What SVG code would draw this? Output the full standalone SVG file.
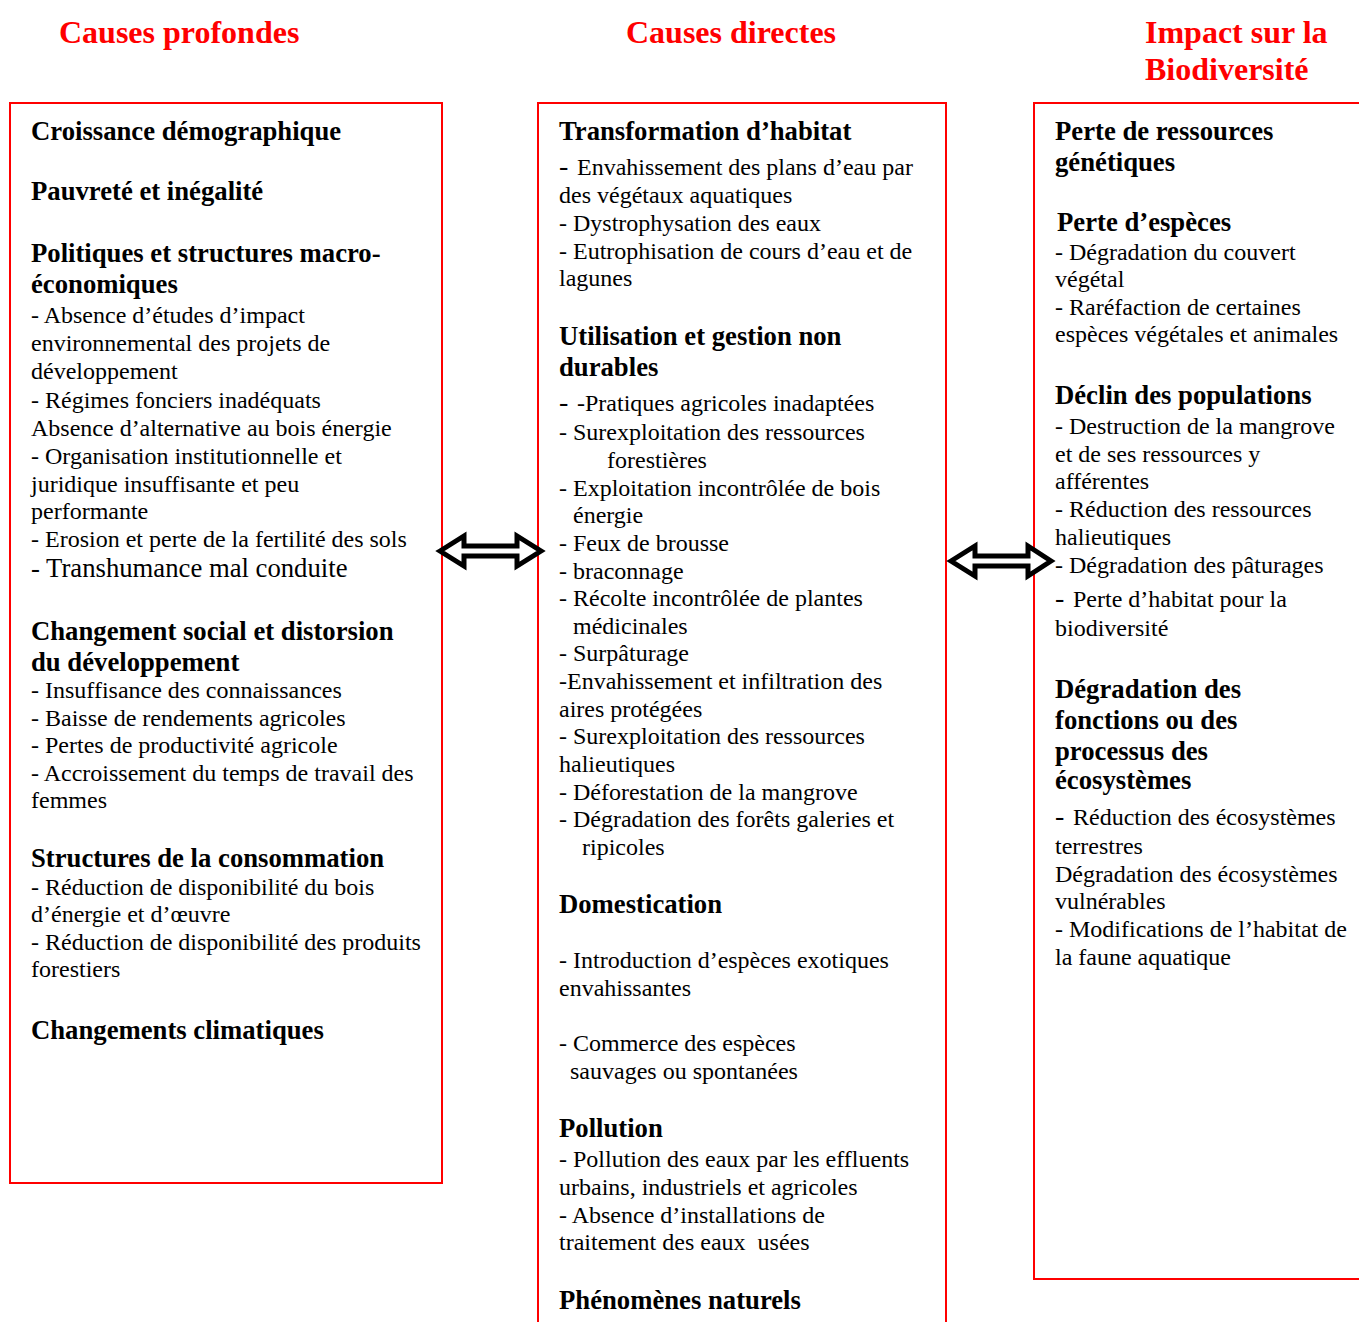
<svg xmlns="http://www.w3.org/2000/svg" width="1359" height="1322" viewBox="0 0 1359 1322">
<style>
text{font-family:"Liberation Serif","Times New Roman",serif;fill:#000}
.t{font-size:24px}
.h{font-size:26.7px;font-weight:bold}
.ti{font-size:32px;font-weight:bold;fill:#ff0000}
.box{fill:#fff;stroke:#ff0000;stroke-width:2}
.arr{fill:#fff;stroke:#000;stroke-width:5;stroke-linejoin:miter}
.bd{font-size:28px}
</style>
<rect width="1359" height="1322" fill="#fff"/>
<g id="titles">
<text class="ti" x="59" y="43">Causes profondes</text>
<text class="ti" x="626" y="43">Causes directes</text>
<text class="ti" x="1145" y="43">Impact sur la</text>
<text class="ti" x="1145" y="80">Biodiversité</text>
</g>
<g id="causes-profondes">
<rect class="box" x="10" y="103" width="432" height="1080"/>
<text class="h" x="31" y="140">Croissance démographique</text>
<text class="h" x="31" y="200">Pauvreté et inégalité</text>
<text class="h" x="31" y="262">Politiques et structures macro-</text>
<text class="h" x="31" y="293">économiques</text>
<text class="t" x="31" y="323">-  Absence d’études d’impact</text>
<text class="t" x="31" y="351">environnemental des projets de</text>
<text class="t" x="31" y="379">développement</text>
<text class="t" x="31" y="408">-  Régimes fonciers inadéquats</text>
<text class="t" x="31" y="436">Absence d’alternative au bois énergie</text>
<text class="t" x="31" y="464">- Organisation institutionnelle et</text>
<text class="t" x="31" y="492">juridique insuffisante et peu</text>
<text class="t" x="31" y="519">performante</text>
<text class="t" x="31" y="547">- Erosion et perte de la fertilité des sols</text>
<text class="t" x="31" y="577" style="font-size:26.7px">- Transhumance mal conduite</text>
<text class="h" x="31" y="640">Changement social et distorsion</text>
<text class="h" x="31" y="671">du développement</text>
<text class="t" x="31" y="698">- Insuffisance des connaissances</text>
<text class="t" x="31" y="726">- Baisse de rendements agricoles</text>
<text class="t" x="31" y="753">- Pertes de productivité agricole</text>
<text class="t" x="31" y="781">- Accroissement du temps de travail des</text>
<text class="t" x="31" y="808">femmes</text>
<text class="h" x="31" y="867">Structures de la consommation</text>
<text class="t" x="31" y="895">- Réduction de disponibilité du bois</text>
<text class="t" x="31" y="922">d’énergie et d’œuvre</text>
<text class="t" x="31" y="950">- Réduction de disponibilité des produits</text>
<text class="t" x="31" y="977">forestiers</text>
<text class="h" x="31" y="1039">Changements climatiques</text>
</g>
<g id="causes-directes">
<rect class="box" x="538" y="103" width="408" height="1240"/>
<text class="h" x="559" y="140">Transformation d’habitat</text>
<text class="t" x="559" y="175"><tspan class="bd">-</tspan><tspan x="577">Envahissement des plans d’eau par</tspan></text>
<text class="t" x="559" y="203">des végétaux aquatiques</text>
<text class="t" x="559" y="231">- Dystrophysation des eaux</text>
<text class="t" x="559" y="259">- Eutrophisation de cours d’eau et de</text>
<text class="t" x="559" y="286">lagunes</text>
<text class="h" x="559" y="345">Utilisation et gestion non</text>
<text class="h" x="559" y="376">durables</text>
<text class="t" x="559" y="411"><tspan class="bd">-</tspan><tspan x="577">-Pratiques agricoles inadaptées</tspan></text>
<text class="t" x="559" y="440">- Surexploitation des ressources</text>
<text class="t" x="607" y="468">forestières</text>
<text class="t" x="559" y="496">- Exploitation incontrôlée de bois</text>
<text class="t" x="573" y="523">énergie</text>
<text class="t" x="559" y="551">- Feux de brousse</text>
<text class="t" x="559" y="579">- braconnage</text>
<text class="t" x="559" y="606">- Récolte incontrôlée de plantes</text>
<text class="t" x="573" y="634">médicinales</text>
<text class="t" x="559" y="661">- Surpâturage</text>
<text class="t" x="559" y="689">-Envahissement et infiltration des</text>
<text class="t" x="559" y="717">aires protégées</text>
<text class="t" x="559" y="744">- Surexploitation des ressources</text>
<text class="t" x="559" y="772">halieutiques</text>
<text class="t" x="559" y="800">- Déforestation de la mangrove</text>
<text class="t" x="559" y="827">- Dégradation des forêts galeries et</text>
<text class="t" x="582" y="855">ripicoles</text>
<text class="h" x="559" y="913">Domestication</text>
<text class="t" x="559" y="968">- Introduction d’espèces exotiques</text>
<text class="t" x="559" y="996">envahissantes</text>
<text class="t" x="559" y="1051">- Commerce des espèces</text>
<text class="t" x="570" y="1079">sauvages ou spontanées</text>
<text class="h" x="559" y="1137">Pollution</text>
<text class="t" x="559" y="1167">- Pollution des eaux par les effluents</text>
<text class="t" x="559" y="1195">urbains, industriels et agricoles</text>
<text class="t" x="559" y="1223">- Absence d’installations de</text>
<text class="t" x="559" y="1250" xml:space="preserve">traitement des eaux  usées</text>
<text class="h" x="559" y="1309">Phénomènes naturels</text>
</g>
<g id="impact-biodiversite">
<rect class="box" x="1034" y="103" width="360" height="1176"/>
<text class="h" x="1055" y="140">Perte de ressources</text>
<text class="h" x="1055" y="171">génétiques</text>
<text class="h" x="1057" y="231">Perte d’espèces</text>
<text class="t" x="1055" y="260">- Dégradation du couvert</text>
<text class="t" x="1055" y="287">végétal</text>
<text class="t" x="1055" y="315">- Raréfaction de certaines</text>
<text class="t" x="1055" y="342">espèces végétales et animales</text>
<text class="h" x="1055" y="404">Déclin des populations</text>
<text class="t" x="1055" y="434">- Destruction de la mangrove</text>
<text class="t" x="1055" y="462">et de ses ressources y</text>
<text class="t" x="1055" y="489">afférentes</text>
<text class="t" x="1055" y="517">- Réduction des ressources</text>
<text class="t" x="1055" y="545">halieutiques</text>
<text class="t" x="1055" y="573">- Dégradation des pâturages</text>
<text class="t" x="1055" y="607"><tspan class="bd">-</tspan><tspan x="1073">Perte d’habitat pour la</tspan></text>
<text class="t" x="1055" y="636">biodiversité</text>
<text class="h" x="1055" y="698">Dégradation des</text>
<text class="h" x="1055" y="729">fonctions ou des</text>
<text class="h" x="1055" y="760">processus des</text>
<text class="h" x="1055" y="789">écosystèmes</text>
<text class="t" x="1055" y="825"><tspan class="bd">-</tspan><tspan x="1073">Réduction des écosystèmes</tspan></text>
<text class="t" x="1055" y="854">terrestres</text>
<text class="t" x="1055" y="882">Dégradation des écosystèmes</text>
<text class="t" x="1055" y="909">vulnérables</text>
<text class="t" x="1055" y="937">- Modifications de l’habitat de</text>
<text class="t" x="1055" y="965">la faune aquatique</text>
</g>
<g id="connectors">
<path class="arr" d="M440,551 L464,536 L464,546 L517,546 L517,536 L541,551 L517,566 L517,556 L464,556 L464,566 Z"/>
<path class="arr" d="M951,561 L975,546 L975,556 L1028,556 L1028,546 L1051,561 L1028,576 L1028,566 L975,566 L975,576 Z"/>
</g>
</svg>
